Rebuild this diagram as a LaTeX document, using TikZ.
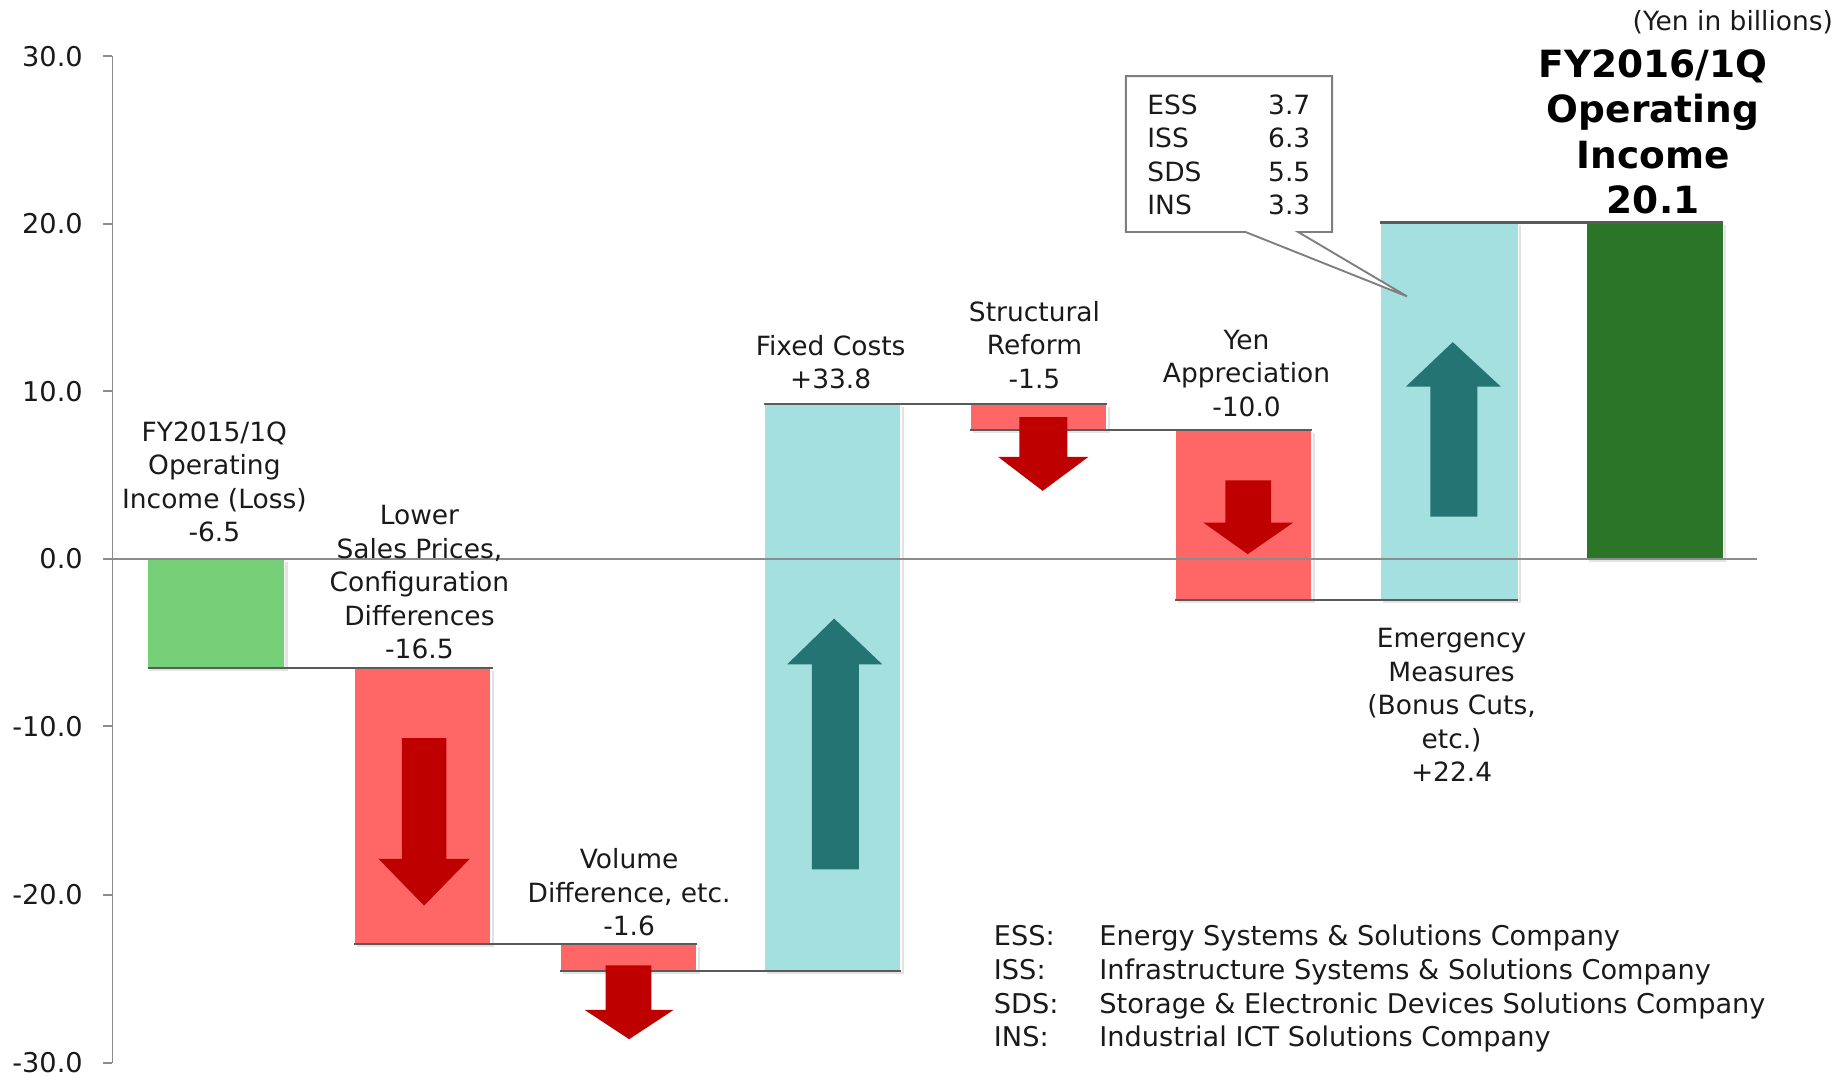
\documentclass[tikz,border=0pt]{standalone}
\usepackage{fontspec}
\setmainfont{DejaVu Sans}
\usetikzlibrary{fit,shadows,calc}
\definecolor{cgreen}{HTML}{75D078}
\definecolor{cred}{HTML}{FF6666}
\definecolor{ccyan}{HTML}{A4E0E0}
\definecolor{cdkgreen}{HTML}{2A7528}
\definecolor{arrred}{HTML}{BE0000}
\definecolor{arrteal}{HTML}{247474}
\definecolor{axgray}{HTML}{8C8C8C}
\definecolor{linkgray}{HTML}{5A5A5A}
\definecolor{txt}{HTML}{1A1A1A}
\begin{document}
\begin{tikzpicture}[x=0.5pt,y=-0.5pt,
  font=\fontsize{11.3}{14.3}\selectfont, text=txt,
  bar/.style={inner sep=0pt, outer sep=0pt, draw=white, line width=0.6pt,
    drop shadow={shadow xshift=1.2pt, shadow yshift=-1.2pt, opacity=0.22}},
  lbl/.style={align=center, inner sep=0pt},
  link/.style={draw=linkgray, line width=1pt},
  axisline/.style={draw=axgray, line width=0.8pt},
  downarr/.style={fill=arrred},
  uparr/.style={fill=arrteal},
  callline/.style={draw=axgray!90!black, line width=0.8pt, fill=white}]
\useasboundingbox (0,0) rectangle (1568,920);

% axis
\coordinate (ytop) at (96,48);
\coordinate (ybot) at (96,907);
\draw[axisline] (ytop) -- (ybot);
\foreach \v/\y/\n in {30.0/48/a,20.0/191/b,10.0/334/c,0.0/477/d,-10.0/620/e,-20.0/764/f,-30.0/907/g}{
  \coordinate (tk\n) at (88,\y);
  \draw[axisline] (tk\n) -- (96,\y);
  \node[anchor=east, inner sep=0pt, font=\fontsize{11.6}{14.3}\selectfont] (tl\n) at (71,\y) {\v};
}

% bars
\node[bar, fill=cgreen,   fit={(126,477)(243,570)}] (b1) {};
\node[bar, fill=cred,     fit={(302,570)(419,806)}] (b2) {};
\node[bar, fill=cred,     fit={(478,806)(595,829)}] (b3) {};
\node[bar, fill=ccyan,    fit={(652,345)(769,829)}] (b4) {};
\node[bar, fill=cred,     fit={(828,345)(945,367)}] (b5) {};
\node[bar, fill=cred,     fit={(1003,367)(1120,512)}] (b6) {};
\node[bar, fill=ccyan,    fit={(1178,190)(1296,512)}] (b7) {};
\node[bar, fill=cdkgreen, fit={(1354,190)(1471,477)}] (b8) {};

% zero line
\coordinate (zl) at (96,477);
\coordinate (zr) at (1500,477);
\draw[axisline] (zl) -- (zr);

% connectors
\draw[link] (b1.south west) -- ($(b2.north east)+(2,0)$);
\draw[link] (b2.south west) -- (b3.north east);
\draw[link] (b3.south west) -- (b4.south east);
\draw[link] (b4.north west) -- (b5.north east);
\draw[link] (b5.south west) -- (b6.north east);
\draw[link] (b6.south west) -- (b7.south east);
\draw[link] (b7.north west) -- (b8.north east);

% block arrows
\fill[downarr] (343,630) -- (381,630) -- (381,733) -- (401,733) -- (362,773) -- (323,733) -- (343,733) -- cycle;
\fill[downarr] (517,824) -- (556,824) -- (556,862) -- (575,862) -- (537,887) -- (499,862) -- (517,862) -- cycle;
\fill[downarr] (870,356) -- (911,356) -- (911,390) -- (929,390) -- (890,419) -- (852,390) -- (870,390) -- cycle;
\fill[downarr] (1046,410) -- (1085,410) -- (1085,446) -- (1104,446) -- (1065,473) -- (1027,446) -- (1046,446) -- cycle;
\fill[uparr] (693,742) -- (733,742) -- (733,567) -- (753,567) -- (712,528) -- (672,567) -- (693,567) -- cycle;
\fill[uparr] (1221,441) -- (1261,441) -- (1261,330) -- (1281,330) -- (1240,292) -- (1200,330) -- (1221,330) -- cycle;

% labels
\node[lbl] (l1) at (183,411.5) {FY2015/1Q\\Operating\\Income (Loss)\\-6.5};
\node[lbl] (l2) at (358,497) {Lower\\Sales Prices,\\Configuration\\Differences\\-16.5};
\node[lbl] (l3) at (537,761.5) {Volume\\Difference, etc.\\-1.6};
\node[lbl] (l4) at (709,309) {Fixed Costs\\+33.8};
\node[lbl] (l5) at (883,294.5) {Structural\\Reform\\-1.5};
\node[lbl] (l6) at (1064,318.5) {Yen\\Appreciation\\-10.0};
\node[lbl] (l7) at (1239,602) {Emergency\\Measures\\(Bonus Cuts,\\etc.)\\+22.4};
\node[lbl, font=\fontsize{16}{19.25}\selectfont\bfseries, text=black] (l8) at (1411,112.5) {FY2016/1Q\\Operating\\Income\\20.1};
\node[anchor=east, inner sep=0pt] (unit) at (1565,19) {(Yen in billions)};

% callout
\node[inner sep=0pt, outer sep=0pt, fit={(961,65)(1137,198)}] (cb) {};
\coordinate (ctip) at (1201,253);
\draw[callline] (cb.north west) -- (cb.north east) -- (cb.south east)
  -- ($(cb.south west)+(147,0)$) -- (ctip) -- ($(cb.south west)+(102,0)$)
  -- (cb.south west) -- cycle;
\node[anchor=west, align=left, inner sep=0pt] (cbt) at (979,132)
  {\makebox[69.5pt]{ESS\hfill 3.7}\\\makebox[69.5pt]{ISS\hfill 6.3}\\
   \makebox[69.5pt]{SDS\hfill 5.5}\\\makebox[69.5pt]{INS\hfill 3.3}};

% legend
\node[anchor=west, align=left, inner sep=0pt, font=\fontsize{11.6}{14.35}\selectfont] (leg) at (848,844)
  {\makebox[45pt][l]{ESS:}Energy Systems \& Solutions Company\\
   \makebox[45pt][l]{ISS:}Infrastructure Systems \& Solutions Company\\
   \makebox[45pt][l]{SDS:}Storage \& Electronic Devices Solutions Company\\
   \makebox[45pt][l]{INS:}Industrial ICT Solutions Company};
\end{tikzpicture}
\end{document}
